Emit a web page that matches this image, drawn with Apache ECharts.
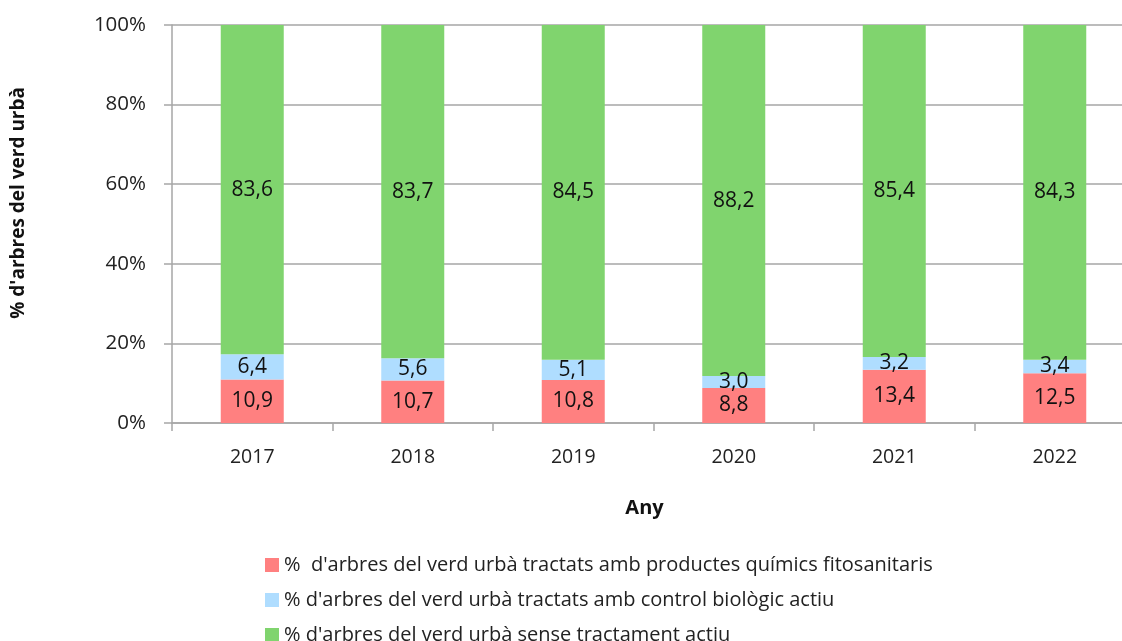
<!DOCTYPE html>
<html>
<head>
<meta charset="utf-8">
<script src="https://cdn.jsdelivr.net/npm/echarts@6/dist/echarts.min.js"></script>
<style>
  html, body { margin: 0; padding: 0; background: #fff; }
  #chart { width: 1122px; height: 641px; }
</style>
</head>
<body>
<div id="chart"></div>
<script>
const years = ['2017', '2018', '2019', '2020', '2021', '2022']
const quimics = [10.9, 10.7, 10.8, 8.8, 13.4, 12.5]
const biologic = [6.4, 5.6, 5.1, 3.0, 3.2, 3.4]
const senseTractament = [83.6, 83.7, 84.5, 88.2, 85.4, 84.3]
const seriesNames = [
  '%  d\'arbres del verd urbà tractats amb productes químics fitosanitaris',
  '% d\'arbres del verd urbà tractats amb control biològic actiu',
  '% d\'arbres del verd urbà sense tractament actiu'
]
const colors = ['#ff8080', '#afddff', '#80d46e']

const font = 'Open Sans'
const gridColor = '#a6a6a6'

const chart = echarts.init(document.getElementById('chart'))

function barSeries (name, data, color) {
  return {
    name: name,
    type: 'bar',
    stack: 'total',
    barWidth: 63,
    data: data,
    itemStyle: { color: color },
    label: {
      show: true,
      position: 'inside',
      fontFamily: font,
      fontSize: 21,
      color: '#111',
      formatter: p => p.value.toFixed(1).replace('.', ',')
    }
  }
}

const option = {
  animation: false,
  color: colors,
  textStyle: { fontFamily: font },
  grid: {
    left: 172,
    width: 963,
    top: 25,
    height: 398,
    containLabel: false,
    outerBoundsMode: 'none'
  },
  legend: {
    orient: 'vertical',
    left: 260,
    top: 550,
    height: 100,
    itemWidth: 14,
    itemHeight: 14,
    itemGap: 15,
    icon: 'rect',
    textStyle: { fontFamily: font, fontSize: 20, color: '#222' },
    data: seriesNames
  },
  xAxis: {
    type: 'category',
    data: years,
    name: 'Any',
    nameLocation: 'middle',
    nameGap: 75,
    nameTextStyle: { fontFamily: font, fontSize: 20, fontWeight: 'bold', color: '#111', padding: [0, 18, 0, 0] },
    axisLine: { lineStyle: { color: gridColor, width: 1.5 } },
    axisTick: { show: true, length: 8, lineStyle: { color: gridColor, width: 1.5 } },
    axisLabel: { fontFamily: font, fontSize: 19.5, color: '#222', margin: 24 }
  },
  yAxis: {
    type: 'value',
    min: 0,
    max: 100,
    interval: 20,
    axisLine: { show: true, lineStyle: { color: gridColor, width: 1.5 } },
    axisTick: { show: true, length: 8, lineStyle: { color: gridColor, width: 1.5 } },
    axisLabel: { fontFamily: font, fontSize: 20.5, color: '#222', margin: 26, formatter: '{value}%' },
    splitLine: { show: true, lineStyle: { color: gridColor, width: 1.5 } }
  },
  graphic: [{
    type: 'text',
    left: 9,
    top: 87,
    rotation: Math.PI / 2,
    style: {
      text: '% d\'arbres del verd urbà',
      fontFamily: font,
      fontSize: 19,
      fontWeight: 'bold',
      fill: '#111'
    }
  }],
  series: [
    barSeries(seriesNames[0], quimics, colors[0]),
    barSeries(seriesNames[1], biologic, colors[1]),
    barSeries(seriesNames[2], senseTractament, colors[2])
  ]
}

chart.setOption(option)
</script>
</body>
</html>
